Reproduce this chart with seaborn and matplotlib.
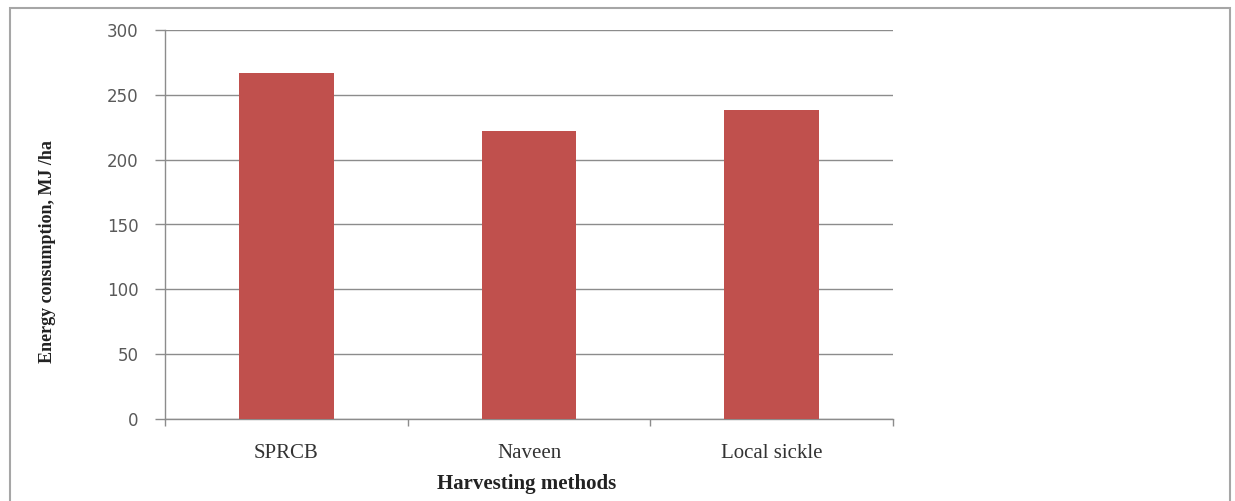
import numpy as np
import pandas as pd
import matplotlib
matplotlib.use("Agg")
import matplotlib.pyplot as plt
import seaborn as sns
from matplotlib.patches import Rectangle

methods = ["SPRCB", "Naveen", "Local sickle"]
energy = [267, 222, 238]

df = pd.DataFrame({"method": methods, "energy": energy})

sns.set_style("white")
plt.rcParams["font.family"] = ["DejaVu Sans"]

fig = plt.figure(figsize=(12.35, 5.01), dpi=100)
ax = fig.add_axes([165 / 1235, 1 - 419 / 501, (893 - 165) / 1235, (419 - 30) / 501])

sns.barplot(data=df, x="method", y="energy", color="#C0504D", saturation=1,
            width=0.39, linewidth=0, ax=ax, zorder=3)

ax.set_ylim(0, 300)
ax.set_xlim(-0.5, 2.5)
ax.set_yticks(np.arange(0, 301, 50))
ax.yaxis.grid(True, color="#8c8c8c", linewidth=1.0, zorder=0)
ax.set_axisbelow(True)
for side in ["top", "right"]:
    ax.spines[side].set_visible(False)
for side in ["left", "bottom"]:
    ax.spines[side].set_color("#8c8c8c")
    ax.spines[side].set_linewidth(1.0)

ax.tick_params(axis="y", which="major", left=True, length=7, width=1, color="#8c8c8c",
               labelsize=12, labelcolor="#595959", pad=12)

# category boundary ticks on x axis
ax.set_xticks([0, 1, 2])
ax.set_xticks([-0.5, 0.5, 1.5, 2.5], minor=True)
ax.tick_params(axis="x", which="major", bottom=False, length=0, pad=18,
               labelsize=15, labelcolor="#333333")
ax.tick_params(axis="x", which="minor", bottom=True, length=5, width=1,
               color="#8c8c8c", direction="out")
for lab in ax.get_xticklabels():
    lab.set_family("Liberation Serif")

ax.set_xlabel("")
ax.set_ylabel("")
fig.text(527 / 1235, 1 - 484 / 501, "Harvesting methods", ha="center", va="center",
         fontsize=15, fontweight="bold", family="Liberation Serif", color="#222222")
fig.text(48 / 1235, 1 - 252 / 501, "Energy consumption, MJ /ha", ha="center", va="center",
         rotation=90, fontsize=13, fontweight="bold", family="Liberation Serif",
         color="#222222")

# outer chart frame
fig.patches.append(Rectangle((10 / 1235, -0.01), (1230 - 10) / 1235, 1 - 8 / 501 + 0.01,
                             transform=fig.transFigure, fill=False,
                             edgecolor="#a6a6a6", linewidth=1.5))

fig.savefig("out.png", dpi=100)
